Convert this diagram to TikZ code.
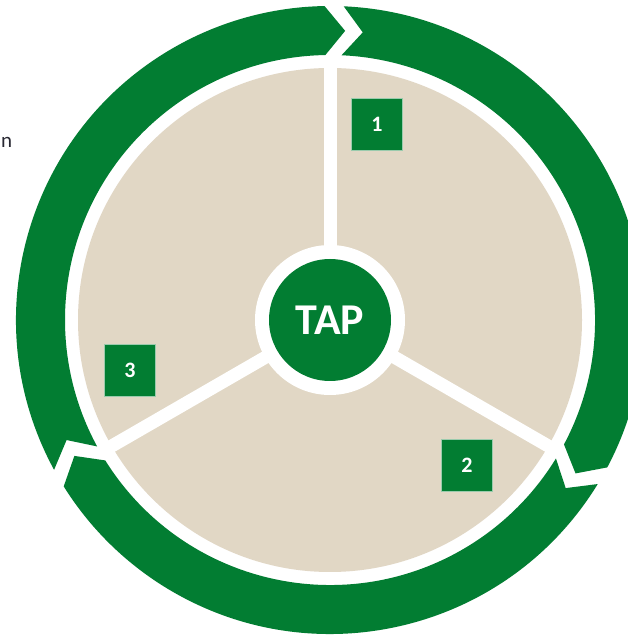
\documentclass[tikz,border=0pt]{standalone}
\usepackage{fontspec}
\setmainfont{Carlito}
\definecolor{tgreen}{RGB}{2,125,50}
\definecolor{tbeige}{RGB}{225,215,197}
\definecolor{ndark}{RGB}{40,40,50}
\tikzset{
  ringseg/.style={fill=tgreen},
  numbox/.style={fill=tgreen, draw=tgreen!40!white, line width=0.6pt, minimum width=51pt, minimum height=52pt, inner sep=0pt, text=white, font=\fontsize{22}{24}\bfseries\selectfont},
  spoke/.style={draw=white, line width=13pt},
}
\newcommand{\ringpiece}[2]{%
  \fill[ringseg] (#1:314) arc[start angle=#1, end angle=#2, radius=314]
    -- ({#2-4}:289.5) -- (#2:265) arc[start angle=#2, end angle=#1, radius=265]
    -- ({#1-4}:289.5) -- cycle;}
\begin{document}
\begin{tikzpicture}[x=1pt,y=1pt]
\useasboundingbox (0,0) rectangle (627,637);
\fill[white] (0,0) rectangle (627,637);
\begin{scope}[shift={(330,317)}]
  % outer green arrows
  \ringpiece{87.5}{-28}
  \ringpiece{-31.5}{-148}
  \ringpiece{208.5}{91}
  % beige disk
  \fill[tbeige] (0,0) circle[radius=252];
  % spokes
  \coordinate (c) at (0,0);
  \coordinate (s1) at (90:258);
  \coordinate (s2) at (-30:258);
  \coordinate (s3) at (210:258);
  \draw[spoke] (c) -- (s1);
  \draw[spoke] (c) -- (s2);
  \draw[spoke] (c) -- (s3);
  % center
  \fill[white] (c) circle[radius=75];
  \node[circle, fill=tgreen, minimum size=122pt, inner sep=0pt, text=white,
        font=\fontsize{44}{48}\bfseries\selectfont] (tap) at (c) {TAP};
\end{scope}
\node[numbox] (b1) at (377,513) {1};
\node[numbox] (b2) at (467,172) {2};
\node[numbox] (b3) at (130,267) {3};
\node[anchor=base west, inner sep=0pt, text=ndark, font=\fontsize{21}{23}\selectfont] (ntext) at (1,489) {n};
\end{tikzpicture}
\end{document}
